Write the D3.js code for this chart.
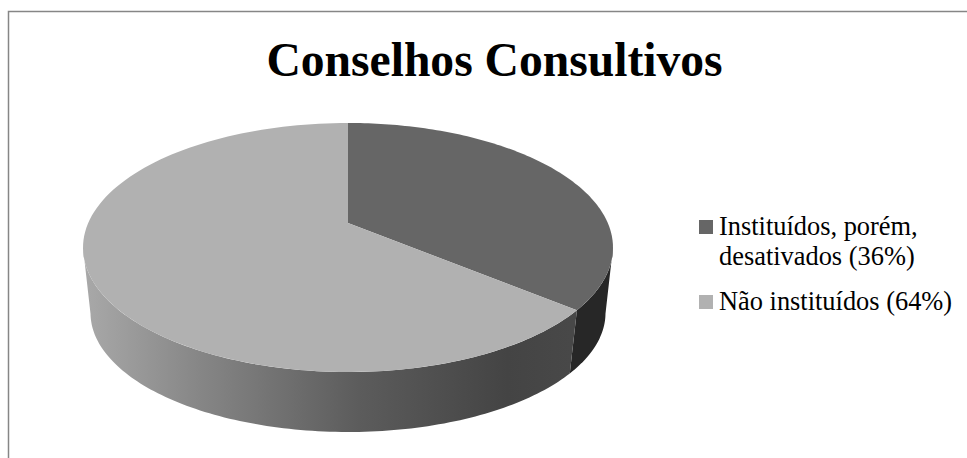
<!DOCTYPE html>
<html>
<head>
<meta charset="utf-8">
<script src="https://cdn.jsdelivr.net/npm/d3@7/dist/d3.min.js"></script>
<style>
  html, body { margin: 0; padding: 0; background: #fff; }
  svg { display: block; }
  text { font-family: "Liberation Serif", serif; fill: #000; }
</style>
</head>
<body>
<svg id="chart" width="967" height="458"></svg>
<script>
const chartTitle = "Conselhos Consultivos";
const categories = ["Instituídos, porém, desativados", "Não instituídos"];
const shares = [36, 64];
const legendLines = [["Instituídos, porém,", "desativados (36%)"], ["Não instituídos (64%)"]];
const topColors = ["#666666", "#b1b1b1"];

const svg = d3.select("#chart");

// Perspective camera for a thick disc: theta runs clockwise from twelve o'clock,
// h is 0 on the top face and 1 on the bottom face.
const cam = { x0: 348, y0: 223, a: 259.8, b: 119.7, c: 69.1, k: 0.1968, m: 0.028, n: 0.126 };
function project(theta, h) {
  const u = Math.sin(theta), v = -Math.cos(theta);
  const w = 1 - cam.k * v + cam.m * h;
  return [cam.x0 + cam.a * u / w, cam.y0 + (cam.b * (1 - cam.n * h) * v + cam.c * h) / w];
}

const arcs = d3.pie().sort(null).value(d => d)(shares);
const line = d3.line();
const steps = d => d3.range(0, 121).map(i => d.startAngle + (d.endAngle - d.startAngle) * i / 120);

// Horizontal shading along the rim of the light slice
const defs = svg.append("defs");
const rimShade = defs.append("linearGradient").attr("id", "rim-light")
  .attr("gradientUnits", "userSpaceOnUse")
  .attr("x1", 83).attr("x2", 613).attr("y1", 0).attr("y2", 0);
[[0, "#a9a9a9"], [0.22, "#868686"], [0.52, "#5c5c5c"], [0.8, "#444444"], [0.92, "#484848"], [1, "#484848"]]
  .forEach(([o, c]) => rimShade.append("stop").attr("offset", o).attr("stop-color", c));
const rimFills = ["#272727", "url(#rim-light)"];

// Rim of each slice, limited to the span between the two silhouette generators
const tangent = Math.asin(cam.k);
const frontStart = Math.PI / 2 + tangent, frontEnd = Math.PI * 1.5 - tangent;
const rim = svg.append("g");
arcs.forEach((d, i) => {
  const from = Math.max(d.startAngle, frontStart), to = Math.min(d.endAngle, frontEnd);
  const angles = d3.range(0, 121).map(j => from + (to - from) * j / 120);
  const outline = angles.map(t => project(t, 0)).concat(angles.slice().reverse().map(t => project(t, 1)));
  rim.append("path").attr("d", line(outline) + "Z").attr("fill", rimFills[i]);
});

// Top face
const face = svg.append("g");
arcs.forEach((d, i) => {
  const pts = [[cam.x0, cam.y0]].concat(steps(d).map(t => project(t, 0)));
  face.append("path").attr("d", line(pts) + "Z").attr("fill", topColors[i]);
});

// Frame around the chart area
svg.append("path").attr("d", "M8.5,458V11.5H967").attr("fill", "none")
  .attr("stroke", "#868686").attr("stroke-width", 1.5);

svg.append("text").attr("x", 494.5).attr("y", 75.5).attr("text-anchor", "middle")
  .attr("font-size", 47.6).attr("font-weight", "bold").text(chartTitle);

// Legend
const swatchY = [220, 295];
const lineY = [[235, 265], [310]];
const legend = svg.append("g");
categories.forEach((c, i) => {
  legend.append("rect").attr("x", 699).attr("y", swatchY[i]).attr("width", 14).attr("height", 14)
    .attr("fill", topColors[i]);
  legendLines[i].forEach((t, j) => {
    legend.append("text").attr("x", 719).attr("y", lineY[i][j]).attr("font-size", 26.4).text(t);
  });
});
</script>
</body>
</html>
